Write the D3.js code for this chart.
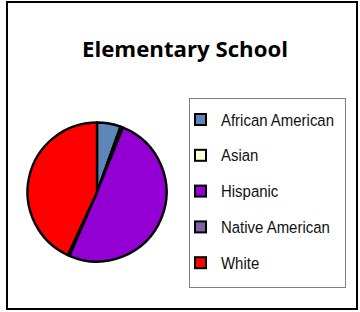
<!DOCTYPE html>
<html>
<head>
<meta charset="utf-8">
<script src="https://cdn.jsdelivr.net/npm/d3@7"></script>
<style>
  html, body { margin: 0; padding: 0; background: #fff; }
  svg { display: block; }
</style>
</head>
<body>
<svg id="chart" width="360" height="312"></svg>
<script>
// data
const categories = ['African American', 'Asian', 'Hispanic', 'Native American', 'White'];
const percents = [5.5, 0.6, 50.4, 0.4, 43.1];
const colors = ['#5f86b9', '#ffffd8', '#9400d3', '#7f63a0', '#ff0000'];
const title = 'Elementary School';

const svg = d3.select('#chart');

// outer frame
svg.append('rect')
  .attr('x', 7).attr('y', 2)
  .attr('width', 350).attr('height', 307)
  .attr('fill', '#fff')
  .attr('stroke', '#000')
  .attr('stroke-width', 2);

svg.append('text')
  .attr('x', 185).attr('y', 57)
  .attr('text-anchor', 'middle')
  .attr('font-family', 'Open Sans, Liberation Sans, sans-serif')
  .attr('font-weight', 'bold')
  .attr('font-size', 22)
  .attr('textLength', 206)
  .attr('lengthAdjust', 'spacingAndGlyphs')
  .text(title);

// pie
const cx = 97, cy = 192, r = 69.5;
const data = categories.map((c, i) => ({ name: c, value: percents[i], color: colors[i] }));

const pie = d3.pie().sort(null).value(d => d.value);
const arc = d3.arc().innerRadius(0).outerRadius(r);

const g = svg.append('g').attr('transform', `translate(${cx},${cy})`);
g.selectAll('path')
  .data(pie(data))
  .join('path')
  .attr('d', arc)
  .attr('fill', d => d.data.color)
  .attr('stroke', '#000')
  .attr('stroke-width', 2.4)
  .attr('stroke-linejoin', 'round');

// legend
const legend = svg.append('g');
legend.append('rect')
  .attr('x', 189.5).attr('y', 98.5)
  .attr('width', 156).attr('height', 189)
  .attr('fill', '#fff')
  .attr('stroke', '#808080')
  .attr('stroke-width', 1);

const rowY = d3.scalePoint().domain(categories).range([119.5, 262.7]);

const rows = legend.selectAll('g.row')
  .data(data)
  .join('g')
  .attr('class', 'row')
  .attr('transform', d => `translate(0,${rowY(d.name)})`);

rows.append('rect')
  .attr('x', 195).attr('y', -5.5)
  .attr('width', 11).attr('height', 11)
  .attr('fill', d => d.color)
  .attr('stroke', '#000')
  .attr('stroke-width', 2);

// narrow look: squeeze the regular face horizontally
rows.append('text')
  .attr('transform', 'translate(221,6) scale(0.88,1)')
  .attr('font-family', 'Liberation Sans, Arial, sans-serif')
  .attr('font-size', 17)
  .attr('fill', '#111')
  .text(d => d.name);
</script>
</body>
</html>
